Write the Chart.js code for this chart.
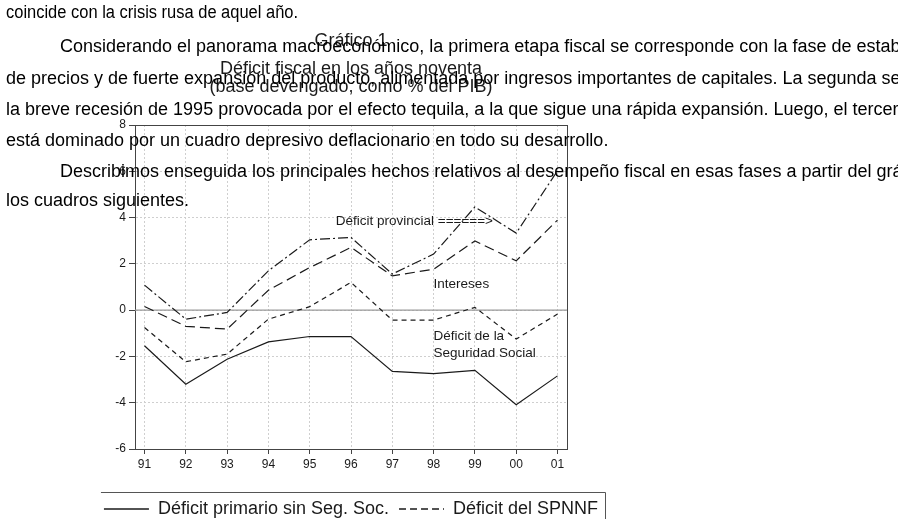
<!DOCTYPE html>
<html lang="es">
<head>
<meta charset="utf-8">
<script src="https://cdn.jsdelivr.net/npm/chart.js@4/dist/chart.umd.min.js"></script>
<style>
  html, body { margin: 0; padding: 0; background: #fff; overflow: hidden; }
  #page { position: relative; width: 898px; height: 519px; overflow: hidden; }
  #chart { position: absolute; left: 0; top: 0; }
  .txt {
    position: absolute; white-space: nowrap; font-family: "Liberation Sans", Arial, sans-serif;
    font-size: 18px; color: #000; line-height: 20px; transform-origin: left center;
  }
</style>
</head>
<body>
<div id="page">
  <canvas id="chart" width="898" height="540"></canvas>
  <div class="txt" style="left:6px; top:2px; transform:scaleX(0.915);">coincide con la crisis rusa de aquel año.</div>
  <div class="txt" style="left:60px; top:36px;">Considerando el panorama macroeconómico, la primera etapa fiscal se corresponde con la fase de estabilidad</div>
  <div class="txt" style="left:6px; top:68px;">de precios y de fuerte expansión del producto, alimentada por ingresos importantes de capitales. La segunda se</div>
  <div class="txt" style="left:6px; top:99px;">la breve recesión de 1995 provocada por el efecto tequila, a la que sigue una rápida expansión. Luego, el tercero</div>
  <div class="txt" style="left:6px; top:130px;">está dominado por un cuadro depresivo deflacionario en todo su desarrollo.</div>
  <div class="txt" style="left:60px; top:161px;">Describimos enseguida los principales hechos relativos al desempeño fiscal en esas fases a partir del gráfico y</div>
  <div class="txt" style="left:6px; top:190px;">los cuadros siguientes.</div>
</div>
<script>
document.addEventListener("DOMContentLoaded", () => {
  // Datos (% del PIB)
  const years = ["91", "92", "93", "94", "95", "96", "97", "98", "99", "00", "01"];
  const primarioSinSS = [-1.54, -3.2, -2.12, -1.37, -1.14, -1.14, -2.65, -2.74, -2.6, -4.09, -2.84];
  const deficitSPNNF = [-0.75, -2.23, -1.9, -0.39, 0.15, 1.2, -0.43, -0.43, 0.12, -1.25, -0.17];
  const conIntereses = [0.16, -0.7, -0.82, 0.86, 1.84, 2.71, 1.48, 1.77, 2.99, 2.13, 3.89];
  const conProvincias = [1.08, -0.39, -0.1, 1.7, 3.04, 3.14, 1.56, 2.42, 4.46, 3.33, 6.02];
  const yTicks = [-6, -4, -2, 0, 2, 4, 6, 8];

  const xMin = -0.23, xMax = 10.23;
  const ink = "#1a1a1a";
  const font = "'Liberation Sans', Arial, sans-serif";

  const toPoints = (vals) => vals.map((v, i) => ({ x: i, y: v }));

  // Text labels inside the plot (data coordinates)
  const notes = [
    { text: "Déficit provincial ======>", x: 4.63, y: 3.85 },
    { text: "Intereses", x: 7.0, y: 1.12 },
    { text: "Déficit de la", x: 7.0, y: -1.12 },
    { text: "Seguridad Social", x: 7.0, y: -1.86 },
  ];

  const notesPlugin = {
    id: "notes",
    afterDatasetsDraw(chart) {
      const { ctx, scales } = chart;
      ctx.save();
      ctx.fillStyle = ink;
      ctx.font = "13.5px " + font;
      ctx.textBaseline = "middle";
      notes.forEach((n) => {
        ctx.fillText(n.text, scales.x.getPixelForValue(n.x), scales.y.getPixelForValue(n.y));
      });
      ctx.restore();
    },
  };

  // Frame round the legend (only top and right sides show)
  const legendFrame = {
    id: "legendFrame",
    afterDraw(chart) {
      const boxes = chart.legend && chart.legend.legendHitBoxes;
      if (!boxes || !boxes.length) return;
      const first = boxes[0];
      const last = boxes[boxes.length - 1];
      const left = first.left - 3;
      const right = Math.round(last.left + last.width + 7);
      const top = Math.round(first.top - 8);
      const { ctx } = chart;
      ctx.save();
      ctx.strokeStyle = "#555";
      ctx.lineWidth = 1;
      ctx.beginPath();
      ctx.moveTo(left, top + 0.5);
      ctx.lineTo(right + 0.5, top + 0.5);
      ctx.lineTo(right + 0.5, chart.height + 5);
      ctx.stroke();
      ctx.restore();
    },
  };

  const line = (label, vals, dash, order) => ({
    label,
    data: toPoints(vals),
    borderColor: ink,
    backgroundColor: ink,
    borderWidth: 1.2,
    borderDash: dash,
    pointRadius: 0,
    tension: 0,
    order,
  });

  new Chart(document.getElementById("chart"), {
    type: "line",
    data: {
      datasets: [
        line("Déficit primario sin Seg. Soc.", primarioSinSS, [], 1),
        line("Déficit del SPNNF", deficitSPNNF, [5, 4], 1),
        line("Déficit con intereses", conIntereses, [10, 5], 1),
        line("Déficit con provincias", conProvincias, [10, 3, 2, 3], 1),
        {
          label: "cero",
          data: [{ x: xMin, y: 0 }, { x: xMax, y: 0 }],
          borderColor: "#9a9a9a",
          borderWidth: 1.2,
          pointRadius: 0,
          order: 10,
        },
      ],
    },
    options: {
      responsive: false,
      animation: false,
      layout: { padding: { left: 0, right: 196, top: 32, bottom: 12 } },
      plugins: {
        tooltip: { enabled: false },
        title: {
          display: true,
          text: "Gráfico 1",
          color: ink,
          font: { family: font, size: 18, weight: "normal", lineHeight: 1 },
          padding: { top: 0, bottom: 10 },
        },
        subtitle: {
          display: true,
          text: ["Déficit fiscal en los años noventa", "(base devengado, como % del PIB)"],
          color: ink,
          font: { family: font, size: 18, lineHeight: 1 },
          padding: { top: 0, bottom: 29 },
        },
        legend: {
          position: "bottom",
          labels: {
            color: ink,
            font: { family: font, size: 18 },
            usePointStyle: true,
            pointStyle: "line",
            pointStyleWidth: 45,
            padding: 10,
            filter: (item) => item.datasetIndex < 2,
            generateLabels: (chart) =>
              Chart.defaults.plugins.legend.labels.generateLabels(chart).map((item) => ({
                ...item,
                lineDash: item.datasetIndex === 1 ? [7, 4] : [],
                strokeStyle: ink,
                lineWidth: 1.5,
              })),
          },
        },
      },
      scales: {
        x: {
          type: "linear",
          min: xMin,
          max: xMax,
          afterFit: (s) => { s.height = 41; },
          ticks: {
            stepSize: 1,
            includeBounds: false,
            autoSkip: false,
            maxRotation: 0,
            padding: 3,
            color: ink,
            font: { family: font, size: 12 },
            callback: (v) => years[v] ?? "",
          },
          grid: { color: "#cfcfcf", tickColor: "#444", tickLength: 5, tickBorderDash: [] },
          border: { color: "#444", width: 1, dash: [2, 2] },
        },
        xTop: {
          type: "linear",
          position: "top",
          min: xMin,
          max: xMax,
          afterFit: (s) => { s.height = 0; },
          ticks: { display: false },
          grid: { display: false },
          border: { color: "#444", width: 1 },
        },
        y: {
          min: -6,
          max: 8,
          afterFit: (s) => { s.width = 135; },
          afterBuildTicks: (s) => { s.ticks = yTicks.map((v) => ({ value: v })); },
          ticks: { padding: 3, color: ink, font: { family: font, size: 12 } },
          grid: { color: "#cfcfcf", tickColor: "#444", tickLength: 6, tickBorderDash: [] },
          border: { color: "#444", width: 1, dash: [2, 2] },
        },
        yRight: {
          position: "right",
          min: -6,
          max: 8,
          afterFit: (s) => { s.width = 135; },
          ticks: { display: false },
          grid: { display: false },
          border: { color: "#444", width: 1 },
        },
      },
    },
    plugins: [notesPlugin, legendFrame],
  });
});
</script>
</body>
</html>
